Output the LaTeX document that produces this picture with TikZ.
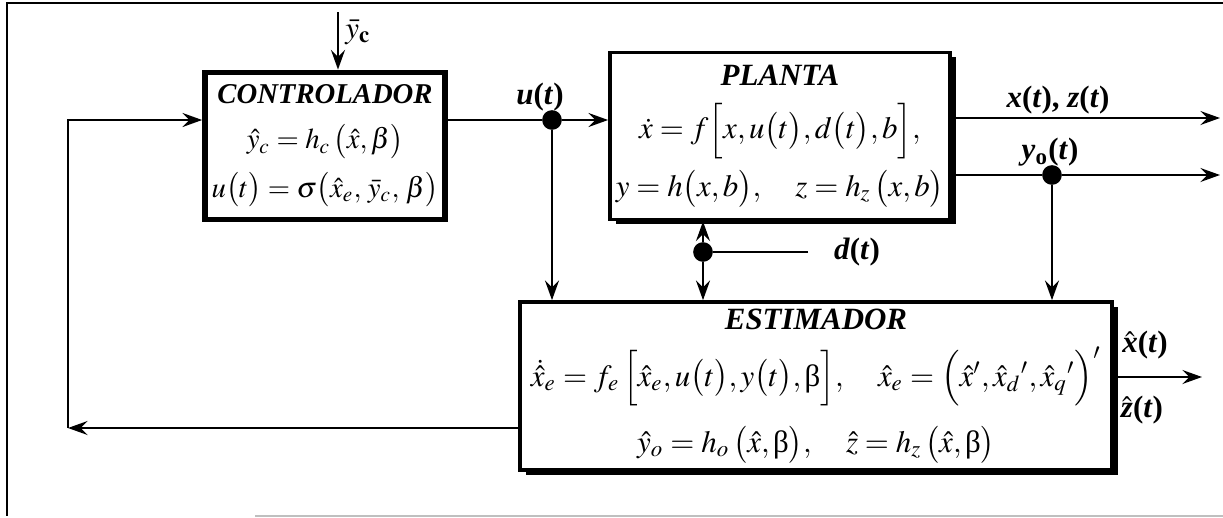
\documentclass[tikz,border=0pt]{standalone}
\usepackage{amsmath}
\usepackage{mathptmx}
\usepackage{fontspec}
\setmainfont{Liberation Serif}
\usetikzlibrary{arrows.meta, positioning, shadows}
\tikzset{
    block/.style={rectangle, draw=black, fill=white, align=center, line width=1.3pt, font=\fontsize{11}{13}\selectfont, inner sep=2pt},
    shadowblock/.style={block, drop shadow={shadow xshift=0.07cm, shadow yshift=-0.06cm, fill=black, opacity=1}},
    arrow/.style={line width=0.7pt, -{Stealth[length=7pt, width=5pt, inset=2.5pt]}},
    line/.style={line width=0.7pt},
    dot/.style={circle, fill=black, inner sep=0pt, minimum size=7pt},
    lbl/.style={font=\fontsize{11}{13}\selectfont\bfseries, inner sep=1pt}
}

\begin{document}
\begin{tikzpicture}[x=0.0125cm, y=-0.0125cm]
    \useasboundingbox (0,0) rectangle (1223,517);
    % frame of the figure
    \draw[line width=0.8pt] (1223,3) -- (7,3) -- (7,516);
    \draw[line width=0.8pt, black!25] (255,516) -- (1223,516);

    \node (ctrl) [block, line width=2pt, minimum width=3cm, minimum height=1.84cm,
                  font=\fontsize{10.2}{12}\selectfont] at (325,146)
        {\textbf{\textit{CONTROLADOR}}\\[4pt]
         $\hat{y}_c = h_c\,\bigl(\hat{x},\beta\bigr)$\\[4pt]
         $u\bigl(t\bigr) = \sigma\bigl(\hat{x}_e,\,\bar{y}_c,\,\beta\bigr)$};
    \node (plant) [shadowblock, minimum width=4.25cm, minimum height=2.09cm] at (780,136)
        {\textbf{\textit{PLANTA}}\\[6pt]
         $\dot{x} = f\Bigl[x,u\bigl(t\bigr),d\bigl(t\bigr),b\Bigr],$\\[3pt]
         $y = h\bigl(x,b\bigr),\quad z = h_z\,\bigl(x,b\bigr)$};
    \node (est) [shadowblock, minimum width=7.4cm, minimum height=2.1cm] at (816,386)
        {\textbf{\textit{ESTIMADOR}}\\[5pt]
         $\dot{\hat{x}}_e = f_e\,\Bigl[\hat{x}_e,u\bigl(t\bigr),y\bigl(t\bigr),\textnormal{β}\Bigr],\quad
          \hat{x}_e = \Bigl(\hat{x}',\hat{x}_d{}',\hat{x}_q{}'\Bigr)'$\\[6pt]
         $\hat{y}_o = h_o\,\bigl(\hat{x},\textnormal{β}\bigr),\quad \hat{z} = h_z\,\bigl(\hat{x},\textnormal{β}\bigr)$};

    \node (udot) [dot] at (552,120) {};
    \node (ydot) [dot] at (1052,175) {};
    \node (ddot) [dot] at (703,252) {};
    \coordinate (ycin) at (338,12);
    \coordinate (fbk) at (68,428);
    \coordinate (xout) at (1220,118);
    \coordinate (yout) at (1220,175);
    \coordinate (din) at (808,252);
    \coordinate (eout) at (1202,377);

    \node (yclab) [lbl, right] at (342,32) {$\bar{y}_{\mathbf{c}}$};
    \node (ulab) [lbl] at (540,97) {\textit{u}(\textit{t})};
    \node (xzlab) [lbl] at (1058,100) {\textit{x}(\textit{t}), \textit{z}(\textit{t})};
    \node (yolab) [lbl] at (1050,152) {\textit{y}\textsubscript{o}(\textit{t})};
    \node (dlab) [lbl] at (857,252) {\textit{d}(\textit{t})};
    \node (xhlab) [lbl] at (1145,345) {$\hat{\textit{\textbf{x}}}$(\textit{t})};
    \node (zhlab) [lbl] at (1142,410) {$\hat{\textit{\textbf{z}}}$(\textit{t})};

    \draw [arrow] (ycin) -- (ycin |- ctrl.north);
    \draw [line] (ctrl.east |- udot) -- (udot);
    \draw [arrow] (udot) -- (udot -| plant.west);
    \draw [arrow] (udot) -- (udot |- est.north);
    \draw [arrow] (plant.east |- xout) -- (xout);
    \draw [line] (plant.east |- ydot) -- (ydot);
    \draw [arrow] (ydot) -- (yout);
    \draw [arrow] (ydot) -- (ydot |- est.north);
    \draw [line] (din) -- (ddot);
    \draw [arrow] (ddot) -- (ddot |- plant.south);
    \draw [arrow] (ddot) -- (ddot |- est.north);
    \draw [arrow] (est.east |- eout) -- (eout);
    \draw [arrow] (est.west |- fbk) -- (fbk);
    \draw [arrow] (fbk) |- (ctrl.west |- udot);
\end{tikzpicture}
\end{document}
